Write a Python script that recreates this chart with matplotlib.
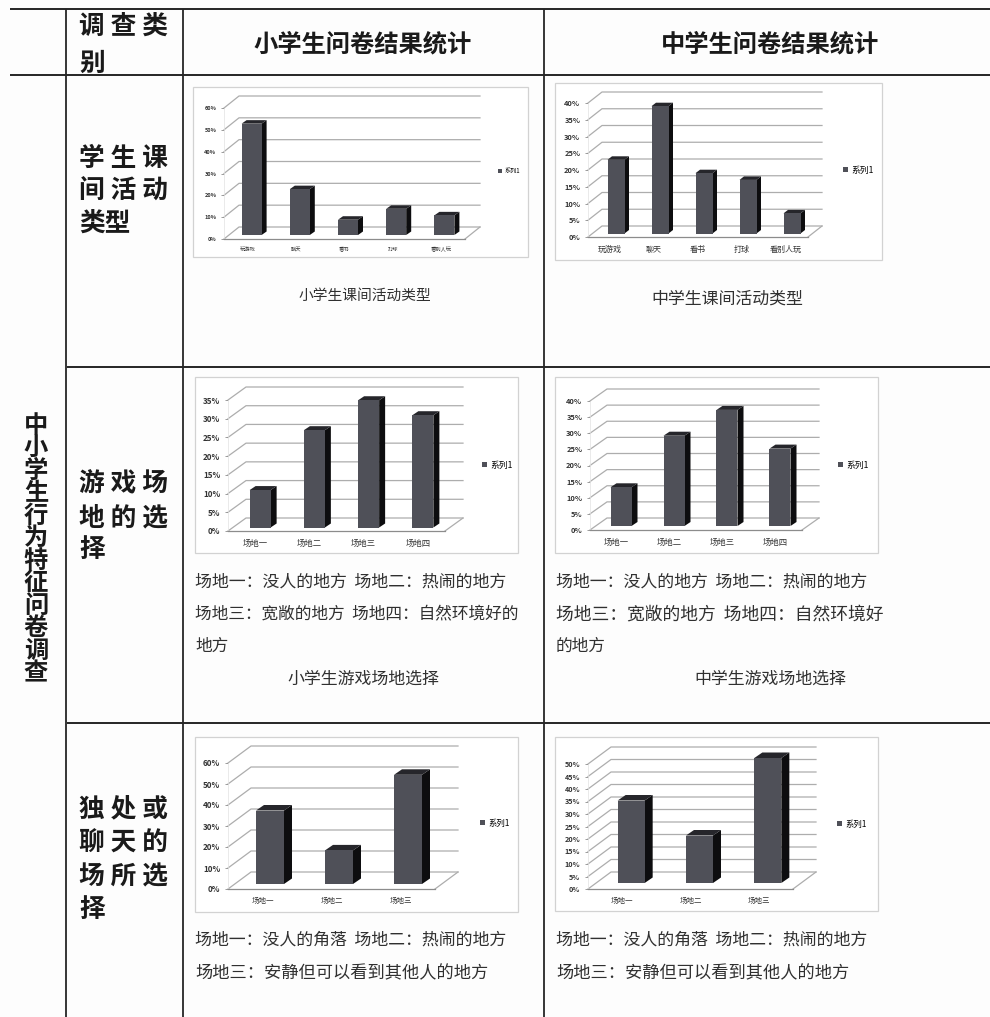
import matplotlib
matplotlib.use("Agg")
import matplotlib.pyplot as plt
import matplotlib.transforms as mtrans
from matplotlib.patches import Polygon, Rectangle

FONT = ['Noto Sans CJK SC', 'DejaVu Sans']
plt.rcParams['font.family'] = FONT

# ---- data ----
activity_labels = ['玩游戏', '聊天', '看书', '打球', '看别人玩']
primary_activity = [51, 21, 7, 12, 9]
middle_activity = [22, 38, 18, 16, 6]
venue_labels = ['场地一', '场地二', '场地三', '场地四']
primary_venue = [10, 26, 34, 30]
middle_venue = [12, 28, 36, 24]
place_labels = ['场地一', '场地二', '场地三']
primary_place = [35, 16, 52]
middle_place = [33, 19, 50]
series_name = '系列1'

W, H, DPI = 990, 1017, 100
fig = plt.figure(figsize=(W / DPI, H / DPI), dpi=DPI, facecolor='#fdfdfd')
page = fig.add_axes([0, 0, 1, 1])
page.set_xlim(0, W)
page.set_ylim(H, 0)
page.axis('off')

# ---- table rules ----
RULE = '#262626'
for y, x0 in [(9, 10), (75, 10), (367, 67), (723, 67)]:
    page.plot([x0, 990], [y, y], color=RULE, lw=1.4, solid_capstyle='butt')
for x, y0 in [(66, 9), (183, 9), (544, 9)]:
    page.plot([x, x], [y0, 1017], color=RULE, lw=1.3, solid_capstyle='butt')


def txt(x, y, s, size, weight='normal', color='#1a1a1a', ha='left', **kw):
    page.text(x, y + 1.5, s, fontsize=size, fontweight=weight, color=color, ha=ha,
              va='center', family=FONT, **kw)


# ---- headers and row titles ----
txt(363, 43, '小学生问卷结果统计', 17.5, 'bold', ha='center')
txt(770, 43, '中学生问卷结果统计', 17.5, 'bold', ha='center')
for y, s in [(25, '调 查 类'), (62, '别'),
             (157, '学 生 课'), (190, '间 活 动'), (222, '类型'),
             (482, '游 戏 场'), (516, '地 的 选'), (548, '择'),
             (807, '独 处 或'), (842, '聊 天 的'), (875, '场 所 选'), (908, '择')]:
    txt(79, y, s, 18.5, 'bold')
txt(36, 548, '\n'.join('中小学生行为特征问卷调查'), 17.5, 'bold', ha='center',
    linespacing=0.92, multialignment='center')

# ---- body text ----
BODY = '#303030'
txt(365, 294, '小学生课间活动类型', 10.6, color=BODY, ha='center')
txt(727, 297, '中学生课间活动类型', 12.2, color=BODY, ha='center')
for x, y, s, size in [
        (195, 580, '场地一：没人的地方  场地二：热闹的地方', 12.2),
        (195, 612, '场地三：宽敞的地方  场地四：自然环境好的', 12.0),
        (195, 645, '地方', 12.0),
        (556, 580, '场地一：没人的地方  场地二：热闹的地方', 12.2),
        (556, 613, '场地三：宽敞的地方  场地四：自然环境好', 12.8),
        (556, 645, '的地方', 12.0),
        (195, 938, '场地一：没人的角落  场地二：热闹的地方', 12.2),
        (195, 972, '场地三：安静但可以看到其他人的地方', 12.4),
        (556, 938, '场地一：没人的角落  场地二：热闹的地方', 12.2),
        (556, 972, '场地三：安静但可以看到其他人的地方', 12.4)]:
    txt(x, y, s, size, color=BODY)
txt(363, 677, '小学生游戏场地选择', 12.2, color=BODY, ha='center')
txt(770, 677, '中学生游戏场地选择', 12.2, color=BODY, ha='center')


def chart(frame, plot, depth, base, side, bar_px, ymax, step, values, labels,
          legend_at, tick_fs, label_fs, legend_fs):
    fx0, fy0, fx1, fy1 = frame
    page.add_patch(Rectangle((fx0, fy0), fx1 - fx0, fy1 - fy0, fc='white',
                             ec='#d2d2d2', lw=0.9))
    x0, ytop, x1, y0 = plot
    ax = fig.add_axes([x0 / W, 1 - y0 / H, (x1 - x0) / W, (y0 - ytop) / H])
    ax.patch.set_alpha(0)
    n = len(values)
    ax.set_xlim(0, n)
    ax.set_ylim(0, ymax)
    px = n / (x1 - x0)
    py = ymax / (y0 - ytop)
    ddx, ddy = depth[0] * px, depth[1] * py

    grid = '#adadad'
    ticks = list(range(0, ymax + 1, step))
    for t in ticks:
        ax.plot([0, ddx, n + ddx], [t, t + ddy, t + ddy], color=grid, lw=0.9,
                clip_on=False, zorder=1)
    ax.plot([n, n + ddx], [0, ddy], color=grid, lw=0.9, clip_on=False, zorder=1)

    shift = mtrans.Affine2D().translate(base[0], base[1])
    tr = ax.transData + shift
    w = bar_px * px
    sx, sy = side[0] * px, side[1] * py
    centers = [i + 0.5 for i in range(n)]
    for c, v in zip(centers, values):
        l, r = c - w / 2, c + w / 2
        ax.add_patch(Polygon([(r, 0), (r + sx, sy), (r + sx, v + sy), (r, v)],
                             fc='#0d0d0f', ec='none', transform=tr,
                             clip_on=False, zorder=3))
        ax.add_patch(Polygon([(l, v), (l + sx, v + sy), (r + sx, v + sy), (r, v)],
                             fc='#26262b', ec='none', transform=tr,
                             clip_on=False, zorder=3))
    bars = ax.bar(centers, values, width=w, color='#4f5058', edgecolor='none',
                  transform=tr, clip_on=False, zorder=4)

    for s in ('top', 'right'):
        ax.spines[s].set_visible(False)
    ax.spines['left'].set_color('#e2e2e2')
    ax.spines['left'].set_linewidth(0.5)
    ax.spines['bottom'].set_color('#8c8c8c')
    ax.spines['bottom'].set_linewidth(0.9)
    ax.set_yticks(ticks)
    ax.set_yticklabels([f'{t}%' for t in ticks], fontsize=tick_fs, color='#333333',
                       fontweight='bold', family=FONT)
    ax.set_xticks(centers)
    ax.set_xticklabels(labels, fontsize=label_fs, color='#333333', family=FONT)
    ax.tick_params(axis='y', length=2.5, width=0.6, color='#8c8c8c', pad=3)
    ax.tick_params(axis='x', length=0, pad=5.5)
    ax.legend([bars[0]], [series_name], loc='center left', frameon=False,
              bbox_to_anchor=legend_at, bbox_transform=page.transData,
              handlelength=0.6, handleheight=0.6,
              handletextpad=0.4, borderpad=0, borderaxespad=0,
              prop={'family': FONT, 'size': legend_fs})


chart((193, 87, 528, 257), (224, 108, 465, 239), (15, 12), (3.5, 4), (5, 3.5), 20,
      60, 10, primary_activity, activity_labels, (498, 171), 4, 3.8, 4.4)
chart((555, 83, 882, 260), (588, 103, 808, 237), (14, 11), (6, 3.5), (4.5, 3.5), 17,
      40, 5, middle_activity, activity_labels, (843, 170), 5.4, 5.8, 6.3)
chart((195, 377, 518, 553), (228, 400, 445, 531), (18, 13), (5, 3.5), (6, 4), 21,
      35, 5, primary_venue, venue_labels, (482, 465), 5.8, 6.0, 6.3)
chart((555, 377, 878, 553), (590, 401, 802, 530), (17, 12), (4.5, 4), (6, 4), 21,
      40, 5, middle_venue, venue_labels, (838, 465), 5.4, 6.0, 6.3)
chart((195, 737, 518, 912), (228, 763, 435, 889), (23, 17), (7.5, 5), (8, 5.5), 28,
      60, 10, primary_place, place_labels, (480, 823), 5.8, 5.4, 6.0)
chart((555, 737, 878, 911), (588, 764, 793, 889), (23, 17), (9, 6), (8, 5.5), 27,
      50, 5, middle_place, place_labels, (837, 824), 5.2, 5.4, 6.0)

fig.savefig('out.png', dpi=DPI, facecolor=fig.get_facecolor())
